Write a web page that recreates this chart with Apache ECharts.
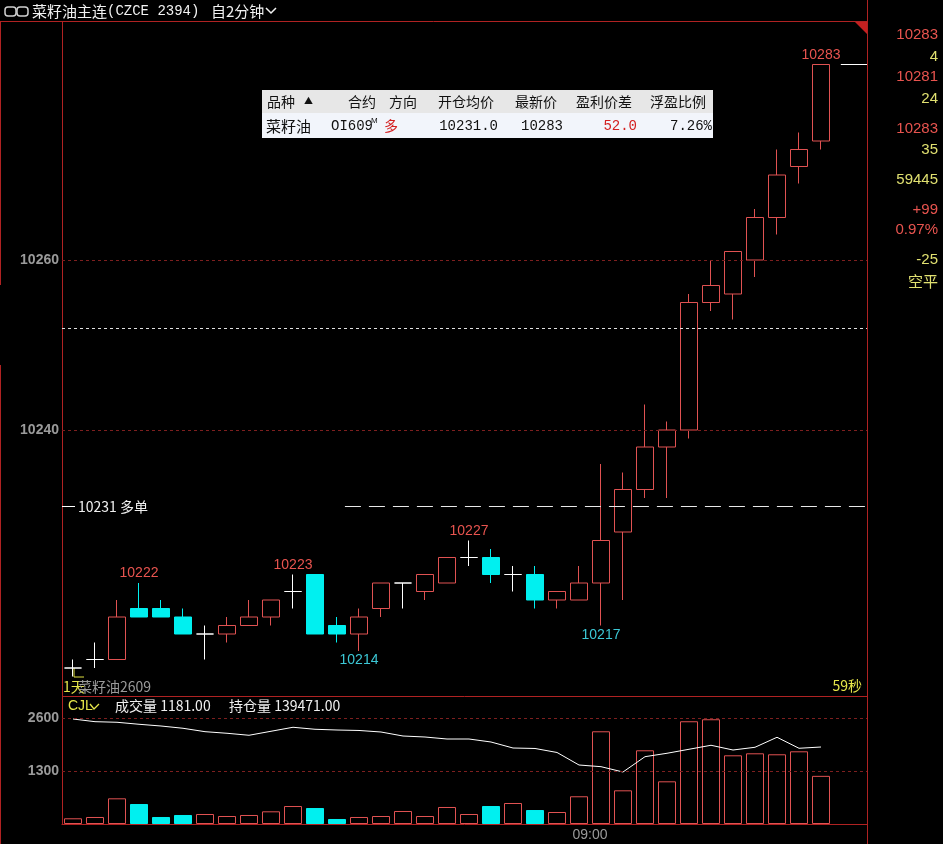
<!DOCTYPE html>
<html><head><meta charset="utf-8">
<script src="https://cdn.jsdelivr.net/npm/echarts@6/dist/echarts.min.js"></script>
<style>html,body{margin:0;padding:0;background:#000;overflow:hidden}#c{width:943px;height:844px}</style>
</head><body><div id="c"></div>
<script>
// ---- data (2-minute bars, 菜籽油主连) ----
const opens  = [10212,10213,10213,10219,10219,10218,10216,10216,10217,10218,10221,10223,10217,10216,10219,10222,10221,10222,10225,10225,10223,10223,10220,10220,10222,10228,10233,10238,10240,10255,10256,10260,10265,10271,10274];
const closes = [10212,10213,10218,10218,10218,10216,10216,10217,10218,10220,10221,10216,10216,10218,10222,10222,10223,10225,10225,10223,10223,10220,10221,10222,10227,10233,10238,10240,10255,10257,10261,10265,10270,10273,10283];
const lows   = [10211,10212,10213,10218,10218,10216,10213,10215,10217,10217,10219,10216,10215,10214,10218,10219,10220,10222,10224,10222,10221,10219,10219,10220,10217,10220,10232,10232,10239,10254,10253,10258,10263,10269,10273];
const highs  = [10213,10215,10220,10222,10220,10219,10217,10218,10220,10220,10223,10223,10218,10219,10222,10222,10223,10225,10227,10226,10224,10224,10221,10224,10236,10235,10243,10241,10256,10260,10261,10266,10273,10275,10283];
const volumes = [140,172,630,490,172,221,245,196,221,311,441,392,123,172,196,319,196,417,245,441,515,343,294,680,2274,826,1808,1047,2520,2569,1685,1734,1710,1783,1181];
const openInterest = [140171,140104,140089,140039,139996,139939,139854,139814,139764,139864,139964,139914,139896,139884,139846,139746,139721,139671,139671,139596,139446,139434,139334,139021,138979,138846,139229,139314,139414,139514,139396,139464,139714,139439,139471];
const highMarkIdx = [3,10,18,34];
const lowMarkIdx = [13,24];
const priceTicks = [10260,10240];
const volTicks = [2600,1300];
const refLine = 10252;
const entryPrice = 10231;
const entryIdx = 12.36;
const timeTickPos = [23.5];
const timeTickLabels = ['09:00'];
const infoTexts = ['10283','4','10281','24','10283','35','59445','+99','0.97%','-25','空平'];
const infoKinds = ['r','y','r','y','r','y','y','r','r','y','y'];
const tableHeaders = ['品种','合约','方向','开仓均价','最新价','盈利价差','浮盈比例'];
const tableRow = ['菜籽油','OI609','多','10231.0','10283','52.0','7.26%'];

// ---- styles ----
const RED='#e05252', CYAN='#00f0f0', FRAME='#b02222', GRIDC='#7d1f1f', TXTR='#e8544f', TXTY='#e0e070', GRAY='#9a9a9a';
const CJK="'Noto Sans CJK SC'";
const XMIN=-0.5, XMAX=-0.5+805/22;

const candleData = opens.map((o,i)=>{
  const it={value:[i,o,closes[i],lows[i],highs[i]]};
  if(o===closes[i]) it.itemStyle={borderColor:'#ffffff',borderColor0:'#ffffff',borderColorDoji:'#ffffff',color:'#000',color0:'#000'};
  return it;
});
const volData = volumes.map((v,i)=>{
  const down = closes[i]<opens[i];
  return {value:[i,v], itemStyle: down?{color:CYAN,borderColor:CYAN,borderWidth:1}:{color:'#000',borderColor:RED,borderWidth:1}};
});
const oiData = openInterest.map((v,i)=>[i,v]);

const markPts = highMarkIdx.map(i=>({coord:[i,highs[i]],value:highs[i],label:{position:'top',color:TXTR}}))
  .concat(lowMarkIdx.map(i=>({coord:[i,lows[i]],value:lows[i],label:{position:'bottom',color:'#3cc8d6'}})));

const axisLab = {show:true,position:'start',distance:3,color:GRAY,fontWeight:'bold',fontSize:14,fontFamily:'Liberation Sans'};
const ls = (c,t)=>({color:c,type:t,width:1});
const mainLines = priceTicks.map(p=>({yAxis:p,lineStyle:ls(GRIDC,[3,3]),label:Object.assign({},axisLab,{formatter:String(p)})}));
mainLines.push({yAxis:refLine,lineStyle:ls('#e0e0e0',[3,3]),label:{show:false}});
const wl = ls('#ffffff','solid');
mainLines.push([{coord:[XMIN,entryPrice],lineStyle:wl,label:{show:true,position:'end',distance:3,formatter:entryPrice+' 多单',color:'#f0f0f0',fontSize:14,fontFamily:CJK}},{coord:[XMIN+13/22,entryPrice],lineStyle:wl}]);
const dl = ls('#e8e8e8',[16,8]);
mainLines.push([{coord:[entryIdx,entryPrice],lineStyle:dl,label:{show:false}},{coord:[XMAX,entryPrice],lineStyle:dl}]);
const last = closes[closes.length-1];
mainLines.push([{coord:[closes.length-1+0.9,last],lineStyle:wl,label:{show:false}},{coord:[XMAX,last],lineStyle:wl}]);
const volLines = volTicks.map(v=>({yAxis:v,lineStyle:ls(GRIDC,[3,3]),label:Object.assign({},axisLab,{formatter:String(v)})}));

// ---- graphics ----
const g=[];
const line=(x1,y1,x2,y2,c,w)=>g.push({type:'line',silent:true,shape:{x1,y1,x2,y2},style:{stroke:c,lineWidth:w||1}});
const text=(t,x,y,fill,font,align,z)=>g.push({type:'text',silent:true,x,y,z:z||10,style:{text:t,fill,font,align:align||'left',verticalAlign:'middle'}});
// frames
line(0,21.5,867,21.5,FRAME);
line(0.5,22,0.5,285,FRAME); line(0.5,365,0.5,844,FRAME);
line(62.5,22,62.5,824,FRAME);
line(867.5,0,867.5,844,FRAME);
line(62,696.5,867,696.5,FRAME);
g.push({type:'polygon',silent:true,shape:{points:[[855,22],[867,22],[867,34]]},style:{fill:'#c42020'}});
// header
g.push({type:'rect',silent:true,shape:{x:5,y:7,width:11,height:9,r:3},style:{fill:'none',stroke:'#cfcfcf',lineWidth:1.5}});
g.push({type:'rect',silent:true,shape:{x:17,y:7,width:11,height:9,r:3},style:{fill:'none',stroke:'#cfcfcf',lineWidth:1.5}});
text('菜籽油主连',32,11,'#f2f2f2','15px '+CJK);
text('(CZCE 2394)',107,11,'#f2f2f2',"14px 'Liberation Mono'");
text('自2分钟',211,11,'#f2f2f2','15px '+CJK);
g.push({type:'polyline',silent:true,shape:{points:[[266,8],[271,13],[276,8]]},style:{stroke:'#f2f2f2',lineWidth:1.5,fill:'none'}});
// right info column
infoTexts.forEach((t,i)=>{
  const ys=[35,57,77,99,129,150,180,210,230,260,281];
  text(t,938,ys[i],infoKinds[i]==='r'?TXTR:TXTY,(/[\u4e00-\u9fa5]/.test(t)?'15px '+CJK:"15px 'Liberation Sans'"),'right');
});
// bottom-of-main labels
g.push({type:'polyline',silent:true,shape:{points:[[74,668],[74,677],[84,677]]},style:{stroke:'#e0e040',lineWidth:1,fill:'none'}});
text('1天',63,687,'#e6e64a','14px '+CJK);
text('菜籽油2609',78,687,GRAY,'14px '+CJK);
text('59秒',862,686,'#e6e64a','14px '+CJK,'right');
// volume header
text('CJL',68,706,'#e6e64a',"14px 'Liberation Sans'");
g.push({type:'polyline',silent:true,shape:{points:[[90,704],[94,709],[99,704]]},style:{stroke:'#e6e64a',lineWidth:1.3,fill:'none'}});
text('成交量 '+volumes[volumes.length-1].toFixed(2),115,706,'#f0f0f0','14px '+CJK);
text('持仓量 '+openInterest[openInterest.length-1].toFixed(2),229,706,'#f0f0f0','14px '+CJK);
// position table
const TX=262, TY=90, TW=451;
const seps=[321,382,425,499,560,638];
g.push({type:'rect',silent:true,z:9,shape:{x:TX,y:TY,width:TW,height:23},style:{fill:'#e7e7e7'}});
g.push({type:'rect',silent:true,z:9,shape:{x:TX,y:TY+23,width:TW,height:25},style:{fill:'#f2f5fb'}});
seps.forEach(x=>line(x+0.5,TY+2,x+0.5,TY+22,'#c4c4c4'));
line(TX,TY+23.5,TX+TW,TY+23.5,'#cfcfcf');
const hf='14px '+CJK, HC='#111';
text(tableHeaders[0],267,TY+12,HC,hf);
text('▲',304,TY+11,HC,'9px '+CJK);
text(tableHeaders[1],376,TY+12,HC,hf,'right');
text(tableHeaders[2],403,TY+12,HC,hf,'center');
text(tableHeaders[3],494,TY+12,HC,hf,'right');
text(tableHeaders[4],557,TY+12,HC,hf,'right');
text(tableHeaders[5],632,TY+12,HC,hf,'right');
text(tableHeaders[6],706,TY+12,HC,hf,'right');
const mf="14px 'Liberation Mono'", ry=TY+36;
text(tableRow[0],266,ry,HC,'15px '+CJK);
text(tableRow[1],331,ry,HC,mf);
text('M',371,ry-5,HC,"8px 'Liberation Sans'");
text(tableRow[2],384,ry,'#d42020','14px '+CJK);
text(tableRow[3],498,ry,HC,mf,'right');
text(tableRow[4],563,ry,HC,mf,'right');
text(tableRow[5],637,ry,'#d42020',mf,'right');
text(tableRow[6],712,ry,HC,mf,'right');

const option={
  backgroundColor:'#000',
  animation:false,
  grid:[{left:62,top:22,width:805,height:675},{left:62,top:697,width:805,height:127}],
  xAxis:[
    {type:'value',gridIndex:0,min:XMIN,max:XMAX,show:false,splitLine:{show:false}},
    {type:'value',gridIndex:1,min:XMIN,max:XMAX,interval:0.5,
     axisLine:{show:true,lineStyle:{color:FRAME}},axisTick:{show:false},splitLine:{show:false},
     axisLabel:{show:true,margin:4,color:GRAY,fontSize:14,fontFamily:'Liberation Sans',
       formatter:v=>{const k=timeTickPos.findIndex(p=>Math.abs(p-v)<1e-6);return k>=0?timeTickLabels[k]:'';}}}
  ],
  yAxis:[
    {type:'value',gridIndex:0,min:10260-(697-260)/8.5,max:10260+(260-22)/8.5,show:false,splitLine:{show:false}},
    {type:'value',gridIndex:1,min:0,max:127/53*1300,show:false,splitLine:{show:false}},
    {type:'value',gridIndex:1,min:139471-77*25,max:139471+50*25,show:false,splitLine:{show:false}}
  ],
  series:[
    {type:'candlestick',xAxisIndex:0,yAxisIndex:0,barWidth:18,encode:{x:0,y:[1,2,3,4]},
     itemStyle:{color:'#000',color0:CYAN,borderColor:RED,borderColor0:CYAN,borderColorDoji:'#ffffff',borderWidth:1},
     data:candleData,
     markPoint:{symbol:'rect',symbolSize:[1,1],silent:true,itemStyle:{color:'rgba(0,0,0,0)'},
       label:{show:true,distance:2,fontSize:14,fontFamily:'Liberation Sans',formatter:p=>String(p.value)},data:markPts},
     markLine:{symbol:['none','none'],silent:true,data:mainLines}},
    {type:'bar',xAxisIndex:1,yAxisIndex:1,barWidth:18,data:volData,
     markLine:{symbol:['none','none'],silent:true,data:volLines}},
    {type:'line',xAxisIndex:1,yAxisIndex:2,data:oiData,showSymbol:false,symbol:'none',lineStyle:{color:'#ffffff',width:1}}
  ],
  graphic:g
};
const chart=echarts.init(document.getElementById('c'));
chart.setOption(option);
</script></body></html>
